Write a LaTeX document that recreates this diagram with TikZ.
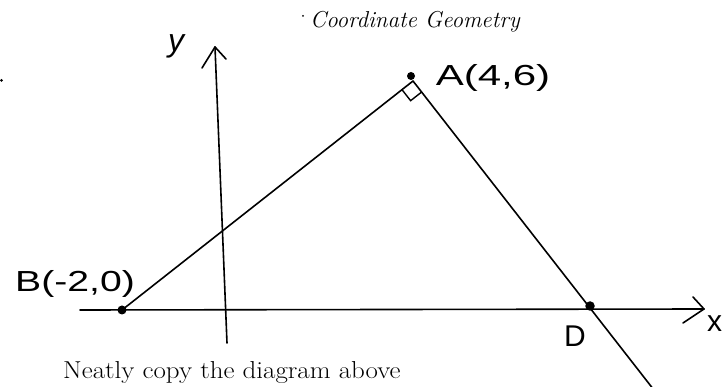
\documentclass[tikz,border=0pt]{standalone}
\usepackage{fontspec}
\newfontfamily\hand{Liberation Sans}
\usetikzlibrary{calc}
\begin{document}
\begin{tikzpicture}[x=1pt,y=-1pt,
  ln/.style={line width=1.6pt,line cap=round,line join=round},
  pt/.style={circle,fill=black,inner sep=0pt,minimum size=#1},
  hw/.style={inner sep=0pt,font=\hand\fontsize{29}{29}\selectfont}]
\useasboundingbox (0,0) rectangle (726,387);
\clip (0,0) rectangle (726,387);
% axes
\coordinate (xs) at (80,310);
\coordinate (xe) at (704,309);
\coordinate (xa1) at (693,297);
\coordinate (xa2) at (683,323);
\coordinate (ys) at (227,343);
\coordinate (ye) at (215,47);
\coordinate (ya1) at (202,68);
\coordinate (ya2) at (226,59);
\draw[ln] (xs) -- (xe);
\draw[ln] (xa1) -- (xe) -- (xa2);
\draw[ln] (ys) -- (ye);
\draw[ln] (ya1) -- (ye) -- (ya2);
% triangle
\coordinate (A) at (413,81);
\coordinate (B) at (122,310);
\coordinate (D) at (590,308);
\coordinate (E) at ($(A)!1.36!(D)$);
\draw[ln] (B) -- (A) -- (E);
% right angle
\coordinate (r1) at ($(A)!14pt!(B)$);
\coordinate (r3) at ($(A)!14pt!(D)$);
\coordinate (r2) at ($(r1)+(r3)-(A)$);
\draw[line width=1.4pt] (r1) -- (r2) -- (r3);
% dots
\node[pt=8pt] (Adot) at (411,76) {};
\node[pt=9pt] (Bdot) at (B) {};
\node[pt=9.5pt] (Ddot) at (590,306) {};
\node[pt=3pt] (stray) at (1.5,80.5) {};
% labels
\node[hw] (Alab) at (493,78) {\scalebox{1.45}[1]{A(4,6)}};
\node[hw] (Blab) at (75,284) {\scalebox{1.35}[1]{B(-2,0)}};
\node[hw,font=\hand\fontsize{30}{30}\selectfont] (Dlab) at (575,336) {D};
\node[hw,font=\hand\itshape\fontsize{32}{32}\selectfont] (ylab) at (176,46) {y};
\node[hw,font=\hand\fontsize{30}{30}\selectfont,anchor=west] (xlab) at (707,324) {x};
\node[inner sep=0pt,anchor=base west,font=\itshape\fontsize{23}{23}\selectfont] (title) at (310,28) {Coordinate Geometry};
\node[pt=2pt] (tick) at (303,16) {};
\node[inner sep=0pt,anchor=base west,font=\fontsize{24.5}{24.5}\selectfont] (note) at (63,379) {\scalebox{1.1}[1]{Neatly copy the diagram above}};
\end{tikzpicture}
\end{document}
